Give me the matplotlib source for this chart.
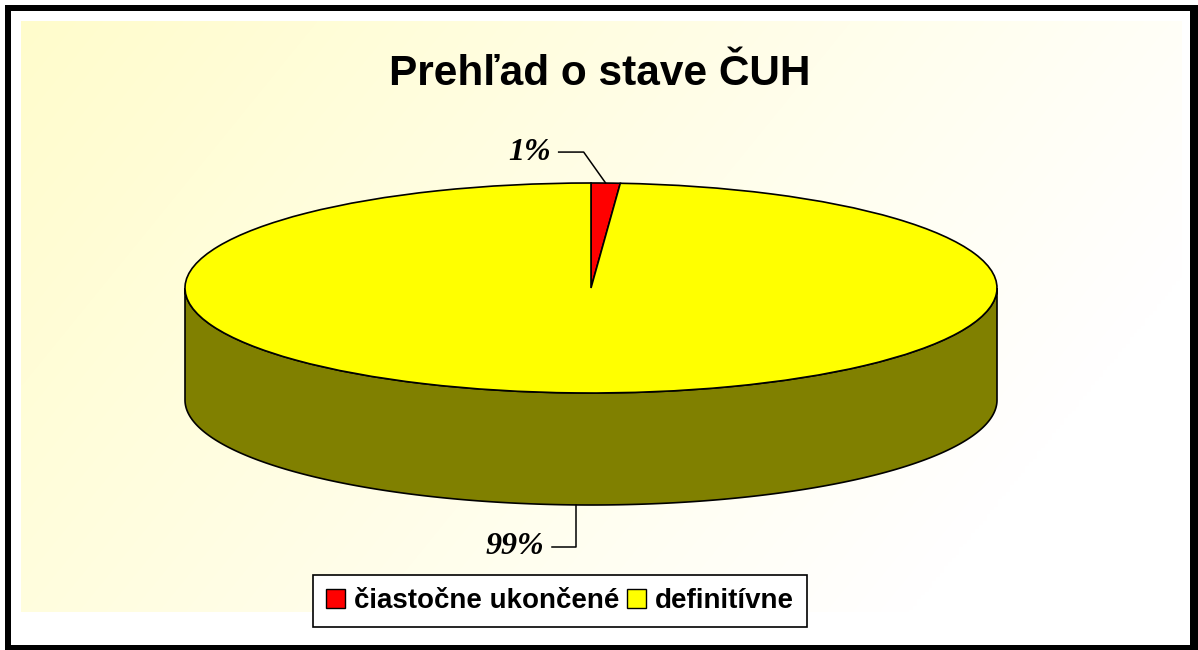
import numpy as np
import matplotlib
matplotlib.use('Agg')
import matplotlib.pyplot as plt
from matplotlib.patches import Wedge, Polygon, Rectangle, Patch
from matplotlib.transforms import Affine2D

labels = ['čiastočne ukončené', 'definitívne']
values = [1.15, 98.85]
pct_labels = ['1%', '99%']
colors = ['#FF0000', '#FFFF00']
side_colors = ['#800000', '#808000']

W, H = 1198, 650
fig = plt.figure(figsize=(W / 100, H / 100), dpi=100)
ax = fig.add_axes([0, 0, 1, 1])
ax.axis('off')

# soft yellow gradient behind the chart
xx, yy = np.meshgrid(np.linspace(0, 1, 300), np.linspace(0, 1, 160))
t = np.clip(0.85 * xx + 0.35 * yy, 0, 1)[..., None]
tint = np.array([1.0, 0.99, 0.80])
img = (1 - t) * tint + t * np.ones(3)
ax.imshow(img, extent=(21, 1182, 612, 21), aspect='auto', zorder=0,
          interpolation='bilinear')
ax.set_xlim(0, W)
ax.set_ylim(H, 0)

# 3d pie: unit circle squeezed into an ellipse
CX, CY, RX, RY, DEPTH = 591, 288, 406, 105, 112
tr = Affine2D().scale(RX, -RY).translate(CX, CY) + ax.transData
d = DEPTH / RY
fracs = np.array(values) / sum(values)
angles = 90 - 360 * np.concatenate([[0], np.cumsum(fracs)])

for i in range(len(values)):
    a_end, a_start = angles[i + 1], angles[i]
    for lo, hi in [(-540, -360), (-180, 0), (180, 360)]:
        a, b = max(lo, a_end), min(hi, a_start)
        if a >= b:
            continue
        th = np.radians(np.linspace(a, b, 300))
        top = np.column_stack([np.cos(th), np.sin(th)])
        bot = np.column_stack([np.cos(th), np.sin(th) - d])[::-1]
        ax.add_patch(Polygon(np.vstack([top, bot]), closed=True, transform=tr,
                             fc=side_colors[i], ec='black', lw=1.2, zorder=2))

for i in range(len(values)):
    ax.add_patch(Wedge((0, 0), 1, angles[i + 1], angles[i], transform=tr,
                       fc=colors[i], ec='black', lw=1.2, zorder=3))

# percentage labels with leader lines
lab_font = dict(family='Liberation Serif', style='italic', weight='bold', size=23)
m = np.radians((angles[0] + angles[1]) / 2)
px, py = CX + RX * np.cos(m), CY - RY * np.sin(m)
ax.plot([px, px - 22, px - 47], [py, py - 31, py - 31], color='black', lw=1.1, zorder=4)
ax.text(px - 55, py - 31, pct_labels[0], ha='right', va='center', **lab_font)

m2 = np.radians((angles[1] + angles[2]) / 2)
qx, qy = CX + RX * np.cos(m2), CY - RY * np.sin(m2) + DEPTH
ax.plot([qx, qx, qx - 24], [qy, 547, 547], color='black', lw=1.1, zorder=4)
ax.text(qx - 32, 547, pct_labels[1], ha='right', va='center', **lab_font)

ax.text(600, 85, 'Prehľad o stave ČUH', ha='center', va='baseline',
        family='Liberation Sans', weight='bold', size=30.5)

handles = [Patch(fc=c, ec='black', lw=1) for c in colors]
leg = fig.legend(handles, labels, loc='center', bbox_to_anchor=(560 / W, 1 - 601 / H),
                 ncol=2, frameon=True, fancybox=False, edgecolor='black', framealpha=1,
                 prop=dict(family='Liberation Sans', weight='bold', size=20),
                 handlelength=0.68, handleheight=0.7, columnspacing=0.25,
                 handletextpad=0.33, borderpad=0.48)
leg.get_frame().set_linewidth(1.2)

# heavy outer frame (right side a bit thicker)
for x0, y0, w, h in [(5, 5, 1193, 6), (5, 5, 6, 645), (1190, 5, 8, 645), (5, 645, 1193, 5)]:
    ax.add_patch(Rectangle((x0, y0), w, h, fc='black', ec='none', clip_on=False, zorder=5))

fig.savefig('out.png', dpi=100)
